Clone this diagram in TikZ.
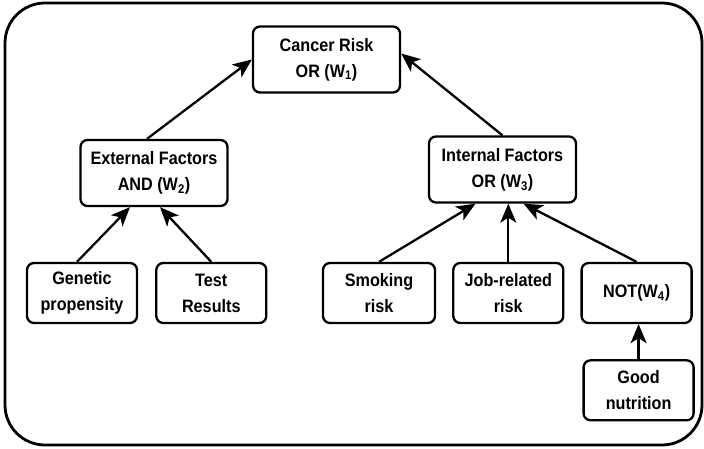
\documentclass[tikz,border=0pt]{standalone}
\usepackage{fontspec}
\setmainfont{Liberation Sans}[FakeStretch=0.9]
\usetikzlibrary{arrows.meta,positioning}

\begin{document}
\begin{tikzpicture}[x=1pt,y=-1pt]
            \tikzstyle{every path}=[line width=2.3pt]
            \tikzstyle{factor}=[draw, rounded corners=7pt, align=center, inner sep=0pt, font=\fontsize{18}{26}\selectfont\bfseries]
            \tikzstyle{gate}=[factor, minimum width=147pt, minimum height=66pt]
            \tikzstyle{leaf}=[factor, minimum width=110pt, minimum height=60pt]
            \tikzstyle{link}=[-{Stealth[length=19pt,width=16pt,inset=5pt]}]

            \useasboundingbox (0,0) rectangle (704,448);
            \draw[line width=2.8pt, rounded corners=40pt] (5,3) rectangle (702,445);

            \node[gate] (cancer) at (326.5,59.5) {Cancer Risk\\OR (W\textsubscript{1})};
            \node[gate] (external) at (154,173) {External Factors\\AND (W\textsubscript{2})};
            \node[gate] (internal) at (502.5,169.5) {Internal Factors\\OR (W\textsubscript{3})};

            \node[leaf] (genetic) at (82,293) {Genetic\\propensity};
            \node[leaf, right=17pt of genetic] (test) {Test\\Results};
            \node[leaf, minimum width=112pt] (smoking) at (379,293) {Smoking\\risk};
            \node[leaf, right=16pt of smoking] (job) {Job-related\\risk};
            \node[leaf, right=16pt of job] (notgate) {NOT(W\textsubscript{4})};
            \node[leaf, below=35pt of notgate, xshift=2pt] (nutrition) {Good\\nutrition};

            \draw[link] ([xshift=-7pt]external.north) -- (cancer.west);
            \draw[link] (internal.north) -- ([yshift=6pt]cancer.east);
            \draw[link] ([xshift=-5pt]genetic.north) -- ([xshift=-24pt]external.south);
            \draw[link] (test.north) -- ([xshift=6pt]external.south);
            \draw[link] (smoking.north) -- ([xshift=-27pt]internal.south);
            \draw[link] (job.north) -- (job.north |- internal.south);
            \draw[link] (notgate.north) -- ([xshift=21pt]internal.south);
            \draw[link] (nutrition.north) -- (nutrition.north |- notgate.south);

        \end{tikzpicture}
\end{document}
